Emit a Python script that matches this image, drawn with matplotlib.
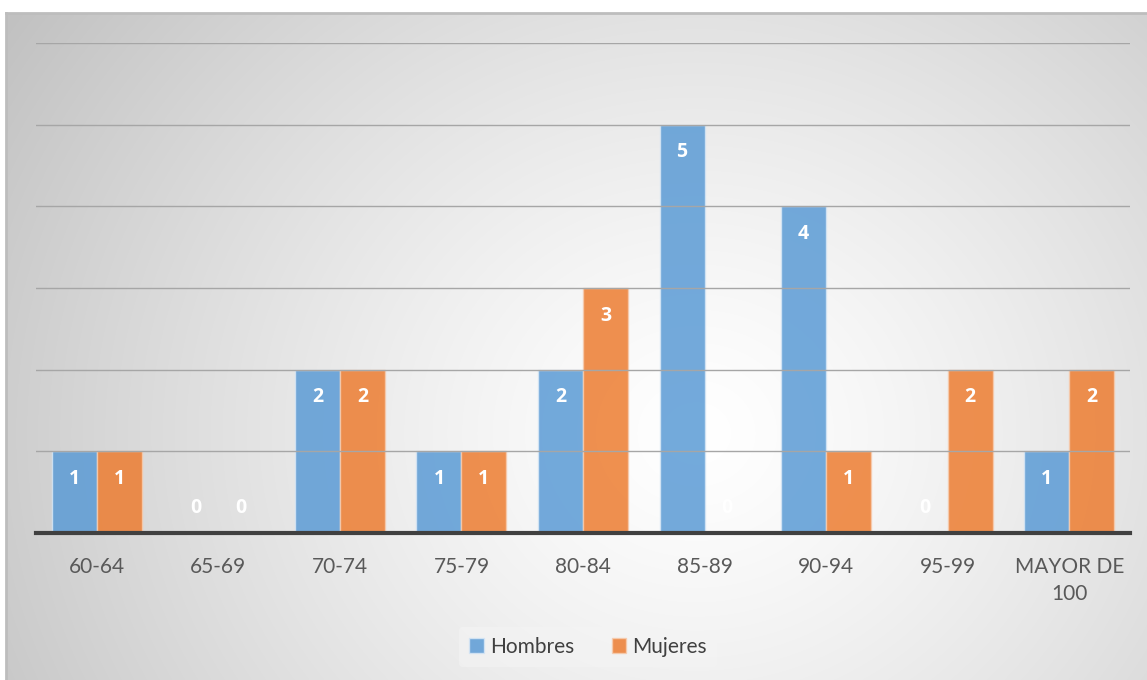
import matplotlib
matplotlib.use("Agg")
import matplotlib.pyplot as plt
import numpy as np

grupos = ["60-64", "65-69", "70-74", "75-79", "80-84", "85-89", "90-94", "95-99", "MAYOR DE\n100"]
hombres = [1, 0, 2, 1, 2, 5, 4, 0, 1]
mujeres = [1, 0, 2, 1, 3, 0, 1, 2, 2]

azul = "#5B9BD5"
naranja = "#ED7D31"

plt.rcParams["font.family"] = ["Lato", "DejaVu Sans"]

fig = plt.figure(figsize=(11.47, 6.8), dpi=100)
fig.patch.set_facecolor("white")

# fondo con degradado radial
bg = fig.add_axes([6 / 1147, 0, 1141 / 1147, 667 / 680])
h, w = 667, 1141
yy, xx = np.mgrid[0:h, 0:w]
cx, cy = 690, 420
r = np.sqrt(((xx - cx) / 1.0) ** 2 + ((yy - cy) / 0.9) ** 2)
r = np.clip(r / 820, 0, 1)
shade = 1.0 - 0.24 * r ** 1.3
bg.imshow(np.dstack([shade] * 3), aspect="auto", extent=[0, 1, 0, 1], interpolation="bilinear")
bg.set_xlim(0, 1)
bg.set_ylim(0, 1)
bg.set_xticks([])
bg.set_yticks([])
for s in ["right", "bottom"]:
    bg.spines[s].set_visible(False)
bg.spines["left"].set_color("#BDBDBD")
bg.spines["top"].set_color("#BDBDBD")
bg.spines["left"].set_linewidth(2)
bg.spines["top"].set_linewidth(2)

ax = fig.add_axes([36 / 1147, (680 - 533) / 680, (1130 - 36) / 1147, (533 - 43) / 680])
ax.set_facecolor("none")

x = np.arange(len(grupos))
width = 0.37

rects_h = ax.bar(x - width / 2, hombres, width, color=azul, alpha=0.85,
                 edgecolor="#D6E6F5", linewidth=1, label="Hombres", zorder=2)
rects_m = ax.bar(x + width / 2, mujeres, width, color=naranja, alpha=0.85,
                 edgecolor="#F6CBAE", linewidth=1, label="Mujeres", zorder=2)

ax.set_ylim(0, 6)
ax.set_xlim(-0.5, len(grupos) - 0.5)
ax.set_yticks(range(0, 7))
ax.yaxis.grid(True, color="#A6A6A6", linewidth=1, zorder=3)
ax.set_axisbelow(False)
ax.tick_params(axis="y", left=False, labelleft=False)
ax.tick_params(axis="x", bottom=False, pad=14, labelsize=15, labelcolor="#595959")
ax.set_xticks(x)
ax.set_xticklabels(grupos, linespacing=1.4)
for s in ["top", "right", "left"]:
    ax.spines[s].set_visible(False)
ax.spines["bottom"].set_color("#404040")
ax.spines["bottom"].set_linewidth(3)
ax.spines["bottom"].set_zorder(4)


def autolabel(rects, ax):
    """Etiqueta blanca dentro del extremo de cada barra."""
    for rect in rects:
        height = rect.get_height()
        off = -20 if height > 0 else 18
        ax.annotate('{}'.format(int(height)),
                    xy=(rect.get_x() + rect.get_width() / 2, height),
                    xytext=(0, off), textcoords="offset points",
                    ha='center', va='center', color="white",
                    fontsize=14, fontweight="bold", family="Open Sans", zorder=5)


autolabel(rects_h, ax)
autolabel(rects_m, ax)

leg = ax.legend(loc="center", bbox_to_anchor=(588 / 1147, (680 - 647) / 680),
                bbox_transform=fig.transFigure, ncol=2, frameon=True,
                fontsize=15, handlelength=0.7, handleheight=0.7,
                handletextpad=0.3, columnspacing=1.8, borderpad=0.5)
leg.get_frame().set_facecolor("#F4F4F4")
leg.get_frame().set_edgecolor("none")
leg.get_frame().set_alpha(0.6)
for t in leg.get_texts():
    t.set_color("#404040")

fig.savefig("out.png", dpi=100)
